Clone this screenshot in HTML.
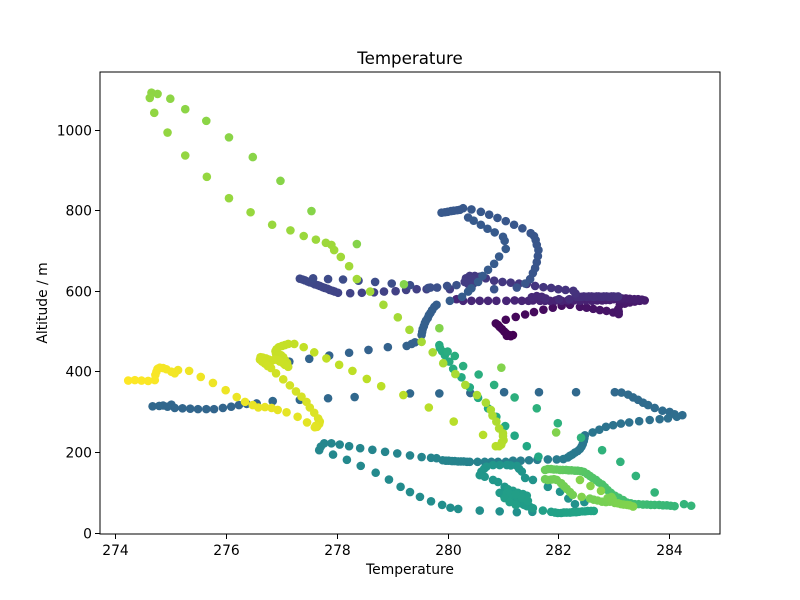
<!DOCTYPE html>
<html lang="en">
<head>
<meta charset="utf-8">
<title>Temperature</title>
<style>
html,body{margin:0;padding:0;background:#fff;}
svg{display:block;}
text{font-family:"DejaVu Sans","Liberation Sans",sans-serif;fill:#000;}
</style>
</head>
<body>
<svg id="chart" xmlns="http://www.w3.org/2000/svg" width="800" height="600" viewBox="0 0 800 600">
<rect x="0" y="0" width="800" height="600" fill="#fff"/>
<rect x="100" y="72" width="620" height="462" fill="#fff"/>
<g id="points"></g>
<rect x="100" y="72" width="620" height="462" fill="none" stroke="#000" stroke-width="1" shape-rendering="crispEdges"/>
<g id="xticks"></g>
<g id="yticks"></g>
<text x="410" y="64" text-anchor="middle" font-size="16.67">Temperature</text>
<text x="410" y="574" text-anchor="middle" font-size="13.89">Temperature</text>
<text x="0" y="0" transform="translate(47,303) rotate(-90)" text-anchor="middle" font-size="13.89">Altitude / m</text>
</svg>
<script>
const xDomain = [273.72, 284.92];
const yDomain = [-1.2, 1146.4];
const xTickValues = [274, 276, 278, 280, 282, 284];
const yTickValues = [0, 200, 400, 600, 800, 1000];

const temperatureLegs = [
[281.18,281.14,281.11,281.07,281.05,281.02,280.98,280.94,280.91,280.87],
[281.05,281.23,281.40,281.56,281.73,281.90,282.06,282.21],
[281.72,281.90,282.06,282.21,282.39,282.51,282.63,282.75,282.87,282.99,283.09,283.09,283.08],
[283.11,283.20,283.29,283.38,283.47,283.56,283.11,283.20,283.29,283.38],
[283.51,283.44,283.37,283.29,283.22,283.15,283.08,283.00,282.93,282.86,282.79,282.70,282.61,282.50,282.39,282.28,282.17,282.06,281.95,281.85,281.76,281.67,281.54,281.46,281.34,281.21,281.06,280.88,280.73,280.58,280.43,280.28,280.16],
[281.52,281.61,281.70,281.77,282.01,282.20],
[282.33,282.37,282.42,282.46,282.51,282.55,282.60,282.64,282.69,282.73,282.78,282.82,282.87,282.91,282.96,283.00,283.05,283.08],
[282.31,282.27,282.13,282.00,281.87,281.73,281.58,281.43,281.29,281.14,280.99,280.84,280.69,280.58,280.49,280.40,280.33,280.31,280.37,280.38,280.44,280.49,280.31,280.38,280.46],
[280.04,279.62,279.44,279.25,279.06,278.85,278.67,278.45,278.24,278.02,277.96,277.92,277.87,277.83,277.78,277.74,277.69,277.65,277.60,277.56,277.51,277.47,277.42,277.38,277.33],
[277.57,277.84,278.11,278.39,278.69,278.99,279.32,279.65,279.69,279.81,279.99,280.16],
[280.84,281.25,281.40,281.49,281.54,281.58,281.61,281.63,281.64,281.61,281.59,281.56,281.50,281.35,281.20,281.05,280.90,280.75,280.60,280.43,280.28,280.22,280.17,280.11,280.06,280.00,279.95,279.89,280.37,280.47,280.60,280.72,280.85,281.00,281.03,281.05,280.93,280.84,280.73,280.63,280.55,280.43,280.37,280.26,280.04],
[279.80,279.76,279.72,279.69,279.66,279.64,279.61,279.59,279.57,279.55,279.54,279.53,279.41,279.35,279.26],
[278.92,278.57,278.22,277.86,277.50,277.14],
[276.55,276.37,276.23,276.09,275.94,275.78,275.64,275.49,275.35,275.21,275.07,275.01,274.94,274.86,274.79,274.67],
[276.84,277.33,277.84,278.32,279.32,279.85,280.41,281.02,281.65,282.32,283.02],
[283.14,283.26,283.35,283.44,283.53,283.62,283.74,283.88,284.01,284.10,284.24],
[284.14,283.98,283.83,283.65,283.46,283.28,283.13,282.99,282.86,282.74,282.62,282.48],
[282.47,282.46,282.44,282.42,282.39,282.35,282.30,282.25,282.21,282.17,282.09,281.97,281.81,281.62,281.47,281.32,281.18,281.05,280.91,280.79,280.67,280.54],
[280.40,280.35,280.29,280.24,280.19,280.13,280.08,280.02,279.97,279.91,279.80,279.70,279.53,279.32,279.09,278.87,278.64,278.42,278.22,278.05,277.90,277.77,277.71,277.68],
[277.93,278.18,278.43,278.70,278.94,279.15,279.32,279.50,279.70,279.90,280.05,280.19,280.58,280.94,281.25,281.53],
[282.47,282.30,282.18,282.03,281.81,281.54,281.40,281.34,281.29,281.25,281.14,281.07,280.94,280.82,280.70,280.66,280.61,280.58,280.67,280.82,280.91,281.03],
[280.94,281.00,281.05,281.11,281.16,281.21,281.27,281.32,281.38,281.43,281.49,281.54,281.09,281.18,281.27,281.36,281.43,281.34,281.25,281.16,281.07,281.12,281.23,281.34,281.45,281.03,281.12,281.23],
[281.72,281.87,281.94,281.99,282.05,282.10,282.15,282.21,282.26,282.32,282.37,282.43,282.48,282.53,282.59,282.64],
[281.64,281.43,281.21,281.04,280.88,280.73,280.55,280.40,280.25,280.10,280.03,279.95,279.90,279.86,279.85],
[280.00,280.13,280.28,280.56,280.84,281.21,281.61,281.99,282.41,282.79,283.12,283.40,283.74,284.27,284.40],
[284.10,284.03,283.96,283.89,283.82,283.74,283.67,283.60,283.53,283.45,283.38,283.31,283.24,283.17,283.09,283.02,282.95,282.89,282.84,282.79,282.73,282.68,282.62,282.57,282.52,282.46,282.41,282.35,282.30,282.24,282.19,282.14,282.08,282.03,281.97,281.92,281.87,281.81,281.76],
[281.76,281.81,281.87,281.92,281.97,282.05,282.10,282.15,282.21,282.26],
[282.57,282.64,282.71,282.79,282.86,282.93,282.89,282.96,282.98,282.97,283.02,283.08,283.13,283.18,283.24,283.29,283.35],
[282.42,282.39,282.58,282.77],
[281.96,280.97,279.85,279.21,278.36,277.54,276.98,276.48,276.05,275.64,275.26,274.99,274.76,274.65,274.62,274.70,274.94,275.26,275.65,276.05,276.44,276.83,277.16,277.40,277.62,277.80,277.90,277.95,278.07,278.22,278.36],
[278.60,278.84,279.10,279.31,279.53,279.73,279.92,280.14,280.32,280.53,280.69,280.78,280.81,280.88,280.93,281.00,281.00,281.01,280.98,280.97,280.93,280.87],
[280.64,280.11,279.66,279.20,278.80,278.54,278.28,278.04,277.81,277.59,277.40,277.23],
[277.12,277.06,277.01,276.95,276.91,276.89,276.90,276.94,276.99,277.03,277.06,277.10,277.12,277.06,277.03,276.97,276.93,276.88,276.83,276.77,276.72,276.66,276.62,276.61,276.65,276.70,276.75,276.81],
[276.90,277.03,277.15,277.26,277.36,277.45,277.51,277.59,277.66,277.69,277.68,277.64,277.62,277.60],
[277.46,277.29,277.09,276.93,276.82,276.70,276.58,276.48,276.34,276.19,275.99,275.76,275.54,275.33,275.13,275.07,275.01,274.92,274.86,274.80,274.76,274.74,274.72,274.71,274.59,274.47,274.35,274.23]
];

const altitudeLegs = [
[493,490,493,491,498,502,508,513,518,522],
[531,538,544,550,556,561,566,568],
[584,576,572,569,563,561,558,555,553,549,545,551,557],
[568,571,574,576,578,579,579,579,581,581],
[581,582,582,583,584,584,582,582,580,580,579,579,578,579,578,579,579,578,579,578,578,578,579,578,578,579,578,578,578,578,578,578,582],
[587,590,588,584,582,582],
[588,588,588,589,588,589,589,588,589,589,588,589,589,588,589,589,588,589],
[596,603,605,607,610,612,615,620,621,623,625,628,634,638,640,640,634,625,620,637,632,627,625,622,620],
[607,607,607,605,602,601,599,598,597,598,601,603,605,608,610,612,615,617,619,622,624,626,629,631,633],
[634,632,631,628,625,621,617,610,611,611,615,617],
[607,611,621,632,647,659,674,689,704,717,729,739,746,758,767,776,784,792,799,805,808,804,803,802,801,799,798,797,785,777,767,757,748,737,727,707,688,670,655,640,625,609,601,588,578],
[568,563,555,548,542,535,529,523,515,508,501,493,475,471,466],
[463,456,449,442,434,427],
[323,322,319,315,312,309,309,309,310,311,312,320,315,318,317,316],
[329,332,336,339,348,348,349,351,351,351,351],
[350,345,338,332,325,319,312,305,302,296,294],
[290,286,284,282,279,276,273,269,265,258,251,244],
[237,230,222,216,210,205,201,196,193,189,185,184,184,183,182,181,181,178,178,178,178,178],
[178,178,179,179,179,180,180,181,181,182,187,188,190,194,199,203,208,212,217,221,224,224,216,207],
[196,183,168,151,134,116,103,91,80,71,64,61,57,55,53,54],
[78,73,87,104,116,133,138,154,161,168,169,170,170,170,166,161,154,145,141,133,128,116],
[101,97,93,89,86,82,78,75,71,68,66,63,110,106,101,98,94,91,91,96,100,98,97,88,81,88,78,71],
[57,54,52,51,51,52,52,52,53,53,54,55,55,56,56,56],
[191,217,243,267,290,311,337,363,388,409,427,443,453,461,468],
[452,441,416,395,369,338,311,274,238,207,178,143,102,73,69],
[68,69,70,70,71,71,71,72,72,73,73,75,77,83,89,94,101,108,115,122,127,133,138,143,148,153,155,156,156,157,157,158,158,158,159,159,160,160,158],
[135,133,134,135,133,125,118,111,103,96],
[87,84,82,79,78,79,88,91,86,83,76,75,73,72,71,70,67],
[91,133,118,106],
[251,412,510,619,719,801,876,935,984,1025,1054,1080,1092,1095,1082,1045,996,939,886,833,798,767,753,739,730,722,717,704,687,664,632],
[601,568,537,506,476,450,423,396,369,344,325,307,293,278,261,249,242,232,227,221,217,217],
[245,278,313,344,366,384,404,419,435,450,463,471],
[471,468,466,463,458,453,446,442,443,438,431,424,414,419,423,427,431,432,430,432,435,437,438,432,427,422,416,411],
[398,383,368,353,340,327,313,300,286,278,272,265,268,264],
[276,290,301,307,312,314,313,319,327,339,356,374,389,404,406,398,402,408,411,412,409,402,394,381,379,380,381,380]
];

const legStartTimes = [0,.015,.045,.065,.08,.115,.13,.145,.185,.225,.26,.295,.31,.32,.335,.345,.36,.39,.44,.465,.505,.54,.565,.60,.62,.66,.78,.79,.81,.81,.86,.89,.91,.93,.96];
const legEndTimes = [.01,.04,.06,.075,.11,.125,.14,.18,.22,.25,.29,.31,.32,.335,.34,.355,.39,.44,.46,.50,.53,.56,.585,.615,.655,.77,.79,.81,.82,.86,.89,.91,.93,.96,1];

const viridisStops = ["#440154","#482475","#414487","#355f8d","#2a788e","#21918c","#22a884","#44bf70","#7ad151","#bddf26","#fde725"];

const NS = "http://www.w3.org/2000/svg";
const PLOT = {left:100, right:720, top:72, bottom:534};
function xScale(v){ return PLOT.left + (v - xDomain[0]) / (xDomain[1] - xDomain[0]) * (PLOT.right - PLOT.left); }
function yScale(v){ return PLOT.bottom - (v - yDomain[0]) / (yDomain[1] - yDomain[0]) * (PLOT.bottom - PLOT.top); }
function hexToRgb(h){ return [parseInt(h.slice(1,3),16),parseInt(h.slice(3,5),16),parseInt(h.slice(5,7),16)]; }
function viridis(t){
  const c = Math.max(0, Math.min(1, t)) * (viridisStops.length - 1);
  const i = Math.min(Math.floor(c), viridisStops.length - 2);
  const f = c - i;
  const a = hexToRgb(viridisStops[i]);
  const b = hexToRgb(viridisStops[i + 1]);
  return "rgb(" + [0,1,2].map(function(k){ return Math.round(a[k] + (b[k] - a[k]) * f); }).join(",") + ")";
}

const pointsGroup = document.getElementById("points");
temperatureLegs.forEach(function(temps, leg){
  const alts = altitudeLegs[leg];
  temps.forEach(function(t, i){
    const frac = temps.length > 1 ? i / (temps.length - 1) : 0;
    const time = legStartTimes[leg] + (legEndTimes[leg] - legStartTimes[leg]) * frac;
    const c = document.createElementNS(NS, "circle");
    c.setAttribute("cx", xScale(t).toFixed(2));
    c.setAttribute("cy", yScale(alts[i]).toFixed(2));
    c.setAttribute("r", "4.3");
    c.setAttribute("fill", viridis(time));
    
    
    pointsGroup.appendChild(c);
  });
});

const xTickGroup = document.getElementById("xticks");
xTickValues.forEach(function(v){
  const px = Math.round(xScale(v)) + 0.5;
  const tick = document.createElementNS(NS, "line");
  tick.setAttribute("x1", px);
  tick.setAttribute("x2", px);
  tick.setAttribute("y1", 534);
  tick.setAttribute("y2", 539);
  tick.setAttribute("stroke", "#000");
  tick.setAttribute("stroke-width", "1");
  
  
  xTickGroup.appendChild(tick);
  const label = document.createElementNS(NS, "text");
  label.setAttribute("x", px);
  label.setAttribute("y", 555);
  label.setAttribute("text-anchor", "middle");
  label.setAttribute("font-size", "13.89");
  label.textContent = String(v);
  
  
  xTickGroup.appendChild(label);
});

const yTickGroup = document.getElementById("yticks");
yTickValues.forEach(function(v){
  const py = Math.round(yScale(v)) - 0.5;
  const tick = document.createElementNS(NS, "line");
  tick.setAttribute("x1", 95);
  tick.setAttribute("x2", 100);
  tick.setAttribute("y1", py);
  tick.setAttribute("y2", py);
  tick.setAttribute("stroke", "#000");
  tick.setAttribute("stroke-width", "1");
  
  
  yTickGroup.appendChild(tick);
  const label = document.createElementNS(NS, "text");
  label.setAttribute("x", 92);
  label.setAttribute("y", py + 5);
  label.setAttribute("text-anchor", "end");
  label.setAttribute("font-size", "13.89");
  label.textContent = String(v);
  
  
  yTickGroup.appendChild(label);
});
</script>
</body>
</html>
